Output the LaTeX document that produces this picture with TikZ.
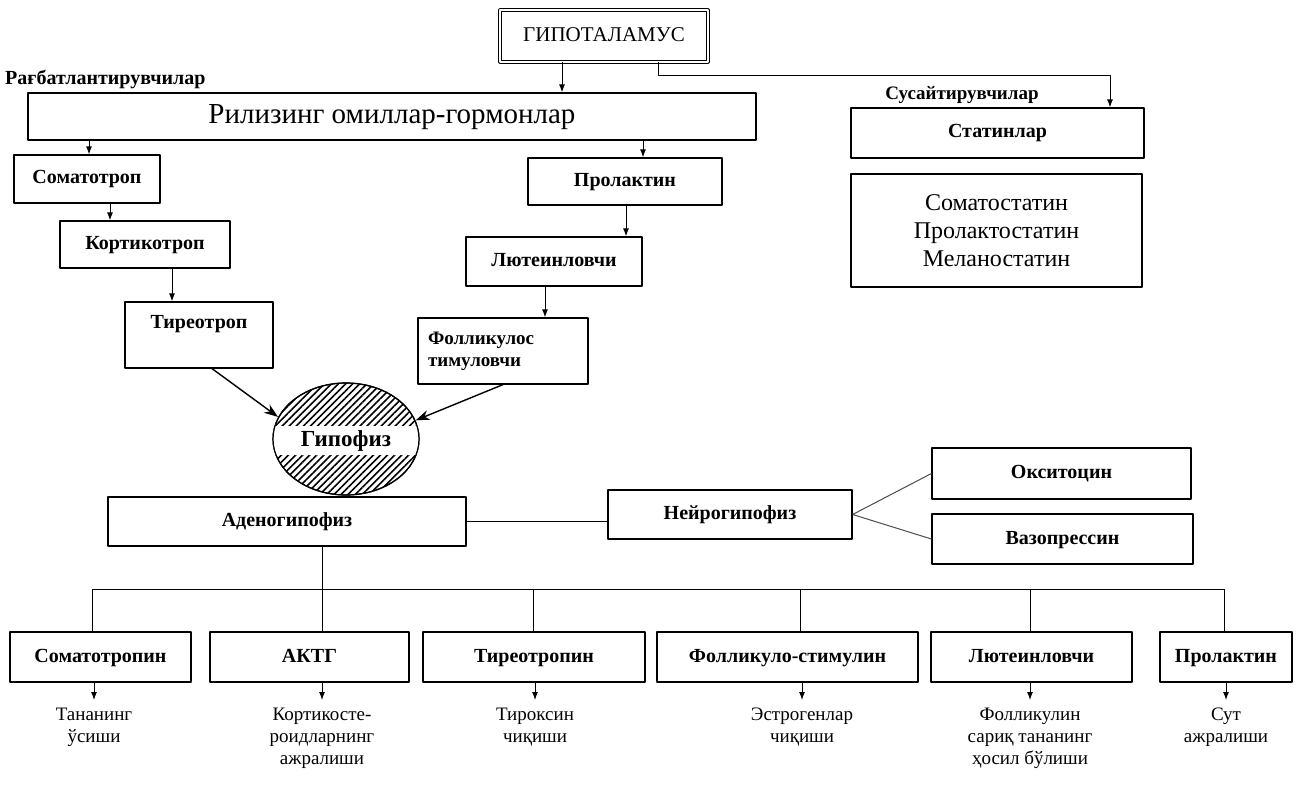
\documentclass[tikz,border=0pt]{standalone}
\usepackage{fontspec}
\setmainfont{Liberation Serif}
\usetikzlibrary{arrows.meta,shapes.geometric,patterns.meta}

\begin{document}
\begin{tikzpicture}[x=1pt, y=-1pt, line join=round, >={Latex[length=8pt,width=6pt]},
	frame/.style={draw, line width=1.2pt, inner sep=2pt, minimum height=48pt, font=\fontsize{20}{22}\selectfont\bfseries},
	box/.style={frame, text height=14pt, text depth=4pt},
	plain/.style={font=\fontsize{19}{22}\selectfont, align=center, inner sep=2pt},
	tag/.style={font=\fontsize{20}{22}\selectfont\bfseries, inner sep=0pt},
	arr/.style={->, line width=1pt},
	big/.style={-{Stealth[length=14pt,width=10pt]}, line width=1.4pt}]
	\useasboundingbox (0,0) rectangle (1301,786);
	% hypothalamus and releasing factors
	\node[draw, double, double distance=1.5pt, line width=0.8pt, minimum width=208pt, minimum height=52pt, text height=14pt, text depth=2pt, font=\fontsize{21}{23}\selectfont] (hypo) at (604,36) {ГИПОТАЛАМУС};
	\node[tag, anchor=west] (ragb) at (5,80) {Рағбатлантирувчилар};
	\node[draw, line width=1.2pt, minimum width=728pt, minimum height=47pt, text height=20pt, text depth=5pt, font=\fontsize{29}{31}\selectfont] (rel) at (392,116.5) {Рилизинг омиллар-гормонлар};
	\node[tag, font=\fontsize{19}{21}\selectfont\bfseries] (sus) at (962,95) {Сусайтирувчилар};
	\node[box, minimum width=293pt, minimum height=50pt] (stat) at (997.5,133) {Статинлар};
	\node[draw, line width=1.2pt, minimum width=291pt, minimum height=113pt, align=center, font=\fontsize{24}{28}\selectfont] (statl) at (996.5,230.5) {Соматостатин\\Пролактостатин\\Меланостатин};
	% tropic chain
	\node[box, minimum width=146pt] (soma) at (87,179) {Соматотроп};
	\node[box, minimum width=170pt, minimum height=47pt] (kort) at (145,244.5) {Кортикотроп};
	\node[box, minimum width=148pt, minimum height=66pt, text depth=28pt] (tireo) at (199,335) {Тиреотроп};
	\node[box, minimum width=194pt, minimum height=47pt] (prol) at (625,181.5) {Пролактин};
	\node[box, minimum width=176pt, minimum height=49pt] (lut) at (554,261.5) {Лютеинловчи};
	\node[frame, minimum width=170pt, minimum height=66pt, align=left, text width=150pt, font=\fontsize{19}{22}\selectfont\bfseries] (foll) at (503,351) {Фолликулос\\тимуловчи};
	% x positions of the short links
	\coordinate (xa) at (562,0);
	\coordinate (xb) at (658,0);
	\coordinate (sbend) at (1110,76);
	\coordinate (xd) at (89,0);
	\coordinate (xe) at (110,0);
	\coordinate (xf) at (172,0);
	\coordinate (xg) at (643,0);
	\coordinate (xh) at (626,0);
	\coordinate (xi) at (545,0);
	\coordinate (xj) at (212,0);
	\draw[arr] (hypo.south -| xa) -- (rel.north -| xa);
	\draw[arr] (hypo.south -| xb) |- (sbend) -- (stat.north -| sbend);
	\draw[arr] (rel.south -| xd) -- (soma.north -| xd);
	\draw[arr] (soma.south -| xe) -- (kort.north -| xe);
	\draw[arr] (kort.south -| xf) -- (tireo.north -| xf);
	\draw[arr] (rel.south -| xg) -- (prol.north -| xg);
	\draw[arr] (prol.south -| xh) -- (lut.north -| xh);
	\draw[arr] (lut.south -| xi) -- (foll.north -| xi);
	% pituitary
	\node[ellipse, draw, line width=1.2pt, minimum width=146pt, minimum height=112pt, pattern={Lines[angle=45,distance=5pt,line width=1.6pt]}] (gip) at (346,439) {};
	\begin{scope}
		\clip (346,439) ellipse (73pt and 56pt);
		\fill[white] (270,426) rectangle (425,455);
	\end{scope}
	\draw[line width=1.2pt] (346,439) ellipse (73pt and 56pt);
	\node[tag, font=\fontsize{23}{25}\selectfont\bfseries] (giptxt) at (346,441) {Гипофиз};
	\draw[big] (tireo.south -| xj) -- (gip.162);
	\draw[big] (foll.south) -- (gip.15);
	% lobes
	\node[box, minimum width=358pt, minimum height=49pt] (aden) at (287,521.5) {Аденогипофиз};
	\node[box, minimum width=244pt, minimum height=49pt] (neur) at (730,514.5) {Нейрогипофиз};
	\node[box, minimum width=259pt, minimum height=51pt] (oks) at (1061.5,473.5) {Окситоцин};
	\node[box, minimum width=261pt, minimum height=50pt] (vaz) at (1062.5,539) {Вазопрессин};
	\draw[line width=1pt] (aden.east) -- (aden.east -| neur.west);
	\draw[line width=1pt, black!70] (neur.east) -- (oks.west) (neur.east) -- (vaz.west);
	% adenohypophysis hormones
	\foreach \n/\x/\w/\t in {1/100.5/181/Соматотропин, 2/309.5/199/АКТГ, 3/534/222/Тиреотропин, 4/787.5/261/Фолликуло-стимулин, 5/1031.5/201/Лютеинловчи, 6/1226/132/Пролактин}
		\node[box, minimum width=\w pt, minimum height=50pt] (b\n) at (\x,657) {\t};
	\foreach \n/\x in {1/92,2/322,3/533,4/800,5/1030,6/1224}
		\coordinate (t\n) at (\x,589);
	\draw[line width=1pt] (t1) -- (t6);
	\draw[line width=1pt] (aden.south -| t2) -- (b2.north -| t2);
	\foreach \n in {1,3,4,5,6}
		\draw[line width=1pt] (t\n) -- (b\n.north -| t\n);
	\foreach \n/\x/\t in {1/94/{Тананинг\\ўсиши}, 2/322/{Кортикосте-\\роидларнинг\\ажралиши}, 3/535/{Тироксин\\чиқиши}, 4/802/{Эстрогенлар\\чиқиши}, 5/1030/{Фолликулин\\сариқ тананинг\\ҳосил бўлиши}, 6/1226/{Сут\\ажралиши}}
		\node[plain, anchor=north] (r\n) at (\x,706) {\t};
	\foreach \n in {1,...,6}
		\draw[arr] (b\n.south -| r\n.north) -- ([yshift=6pt]r\n.north);
\end{tikzpicture}
\end{document}
